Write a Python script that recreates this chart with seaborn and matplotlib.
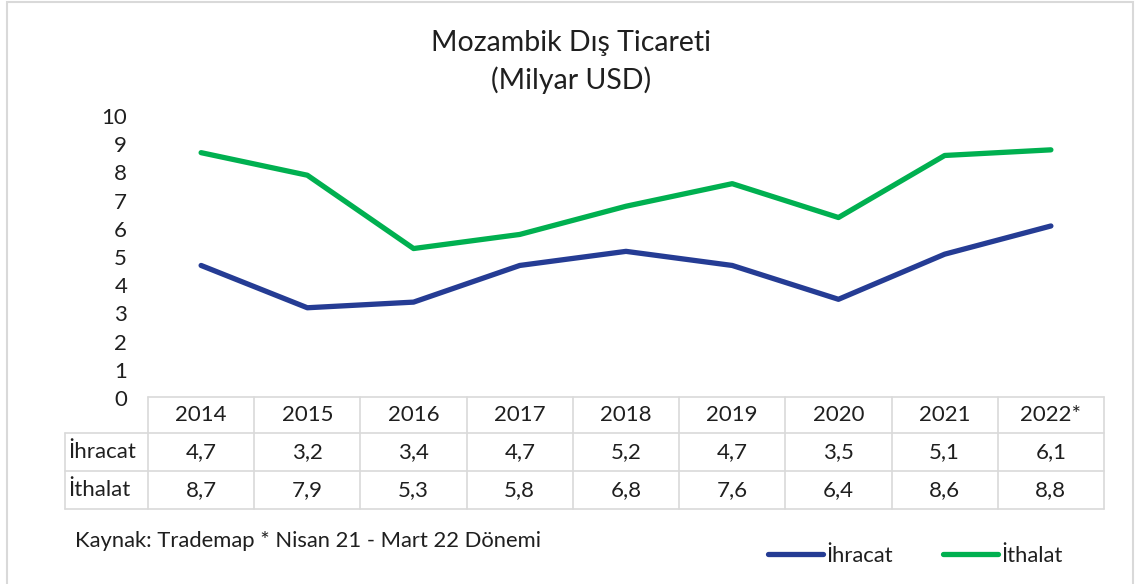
import matplotlib.pyplot as plt
import matplotlib.transforms as mtransforms
from matplotlib.lines import Line2D
from matplotlib.patches import Rectangle
import seaborn as sns
import pandas as pd

yillar = ["2014", "2015", "2016", "2017", "2018", "2019", "2020", "2021", "2022*"]
ihracat = [4.7, 3.2, 3.4, 4.7, 5.2, 4.7, 3.5, 5.1, 6.1]
ithalat = [8.7, 7.9, 5.3, 5.8, 6.8, 7.6, 6.4, 8.6, 8.8]
seriler = ["İhracat", "İthalat"]
renkler = ["#253c94", "#00b050"]

C_TEXT = "#1f1f1f"
C_GRID = "#d9d9d9"
W, H = 1142, 584
FS = 16

sns.set_theme(style="white")
plt.rcParams["font.family"] = ["Lato", "DejaVu Sans"]
plt.rcParams["text.color"] = C_TEXT


def fx(px):
    return px / W


def fy(py):
    return 1 - py / H


fig = plt.figure(figsize=(W / 100, H / 100), dpi=100)
fig.patch.set_facecolor("white")

ax = fig.add_axes([fx(148), fy(398), fx(1104) - fx(148), fy(116) - fy(398)])

df = pd.DataFrame({
    "sira": list(range(len(yillar))) * 2,
    "deger": ihracat + ithalat,
    "seri": [seriler[0]] * len(yillar) + [seriler[1]] * len(yillar),
})
sns.lineplot(data=df, x="sira", y="deger", hue="seri", palette=renkler,
             linewidth=3.8, ax=ax, legend=False, solid_capstyle="round")

ax.set_xlim(-0.5, len(yillar) - 0.5)
ax.set_ylim(0, 10)
ax.set_yticks(range(11))
ax.set_xticks([])
ax.set_xlabel("")
ax.set_ylabel("")
for s in ax.spines.values():
    s.set_visible(False)
ax.tick_params(axis="y", length=0, pad=15, labelsize=FS, labelcolor=C_TEXT)
ax.patch.set_alpha(0)

# veri tablosu
trans = mtransforms.blended_transform_factory(ax.transData, fig.transFigure)
satir_y = [397, 433, 471, 509]
lw = 1.2
# yatay cizgiler
fig.add_artist(Line2D([fx(148), fx(1104)], [fy(satir_y[0])] * 2, color=C_GRID, lw=lw))
for y in satir_y[1:]:
    fig.add_artist(Line2D([fx(65), fx(1104)], [fy(y)] * 2, color=C_GRID, lw=lw))
# dikey cizgiler
for i in range(len(yillar) + 1):
    fig.add_artist(Line2D([i - 0.5] * 2, [fy(satir_y[0]), fy(satir_y[-1])],
                          color=C_GRID, lw=lw, transform=trans))
fig.add_artist(Line2D([fx(65)] * 2, [fy(satir_y[1]), fy(satir_y[-1])], color=C_GRID, lw=lw))

orta = [(satir_y[k] + satir_y[k + 1]) / 2 for k in range(3)]
for i, yil in enumerate(yillar):
    satirlar = [yil,
                f"{ihracat[i]:.1f}".replace(".", ","),
                f"{ithalat[i]:.1f}".replace(".", ",")]
    for k, metin in enumerate(satirlar):
        fig.text(i, fy(orta[k]), metin, transform=trans,
                 ha="center", va="center", fontsize=FS)
fig.text(fx(68), fy(orta[1]), seriler[0], ha="left", va="center", fontsize=FS)
fig.text(fx(68), fy(orta[2]), seriler[1], ha="left", va="center", fontsize=FS)

# basliklar
fig.text(0.5, fy(43), "Mozambik Dış Ticareti", ha="center", va="center", fontsize=20.5)
fig.text(0.5, fy(80), "(Milyar USD)", ha="center", va="center", fontsize=20.5)

fig.text(fx(75), fy(541), "Kaynak: Trademap * Nisan 21 - Mart 22 Dönemi",
         ha="left", va="center", fontsize=15.8)

# lejant
handles = [Line2D([], [], color=c, lw=3.8, solid_capstyle="round") for c in renkler]
fig.legend(handles, seriler, loc="center left", bbox_to_anchor=(fx(768), fy(556)),
           ncol=2, frameon=False, fontsize=15.8, handlelength=2.5, handletextpad=0.15,
           columnspacing=2.3, borderaxespad=0, borderpad=0)

# cerceve
fig.add_artist(Rectangle((fx(7), fy(600)), fx(1133) - fx(7), fy(2) - fy(600),
                         fill=False, edgecolor=C_GRID, lw=1.5, transform=fig.transFigure))

fig.savefig("out.png", dpi=100)
plt.close(fig)
